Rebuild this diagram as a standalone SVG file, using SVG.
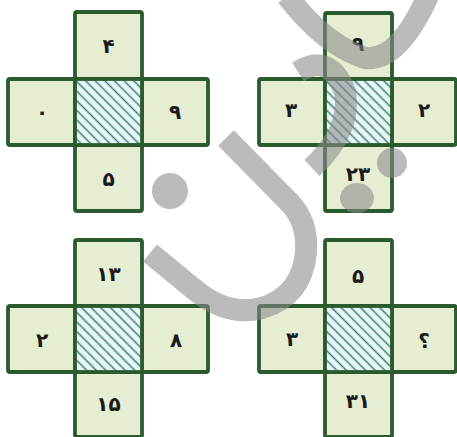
<svg xmlns="http://www.w3.org/2000/svg" width="457" height="437" viewBox="0 0 457 437">
<style>
.cell{fill:#e5edd2;stroke:#2c5a2f;stroke-width:3.8;}
.mid{fill:url(#hatch);stroke:#2c5a2f;stroke-width:3.8;}
.t{font-family:"DejaVu Sans","Noto Sans",sans-serif;font-weight:bold;font-size:20px;fill:#1a1a1a;text-anchor:middle;}
.wm{fill:none;stroke:#8a8a8a;stroke-opacity:0.58;stroke-width:22;}
.wmf{fill:#8a8a8a;fill-opacity:0.58;}
</style>
<defs>
<pattern id="hatch" width="6.8" height="6.8" patternUnits="userSpaceOnUse" patternTransform="rotate(45)">
<rect width="6.8" height="6.8" fill="#e9f8f5"/>
<line x1="0" y1="3.4" x2="6.8" y2="3.4" stroke="#3d7c7c" stroke-width="1.5"/>
</pattern>
</defs>
<rect width="457" height="437" fill="#ffffff"/>

<g id="cross1">
<g id="c1-top"><rect class="cell" x="75" y="12" width="67" height="67" rx="2"/><text class="t" x="108.5" y="53">۴</text></g>
<g id="c1-left"><rect class="cell" x="8" y="79" width="67" height="66" rx="2"/><text class="t" x="42" y="119">۰</text></g>
<g id="c1-right"><rect class="cell" x="142" y="79" width="66" height="66" rx="2"/><text class="t" x="175" y="119">۹</text></g>
<g id="c1-bottom"><rect class="cell" x="75" y="145" width="67" height="66" rx="2"/><text class="t" x="108.5" y="186">۵</text></g>
<g id="c1-center"><rect class="mid" x="75" y="79" width="67" height="66"/></g>
</g>

<g id="cross2">
<g id="c2-top"><rect class="cell" x="325" y="13" width="67" height="66" rx="2"/><text class="t" x="358" y="51">۹</text></g>
<g id="c2-left"><rect class="cell" x="259" y="79" width="66" height="66" rx="2"/><text class="t" x="291" y="117">۳</text></g>
<g id="c2-right"><rect class="cell" x="392" y="79" width="64" height="66" rx="2"/><text class="t" x="424" y="117">۲</text></g>
<g id="c2-bottom"><rect class="cell" x="325" y="145" width="67" height="66" rx="2"/><text class="t" x="358" y="181">۲۳</text></g>
<g id="c2-center"><rect class="mid" x="325" y="79" width="67" height="66"/></g>
</g>

<g id="cross3">
<g id="c3-top"><rect class="cell" x="75" y="240" width="67" height="66" rx="2"/><text class="t" x="108.5" y="281">۱۳</text></g>
<g id="c3-left"><rect class="cell" x="8" y="306" width="67" height="66" rx="2"/><text class="t" x="42" y="347">۲</text></g>
<g id="c3-right"><rect class="cell" x="142" y="306" width="66" height="66" rx="2"/><text class="t" x="176" y="347">۸</text></g>
<g id="c3-bottom"><rect class="cell" x="75" y="372" width="67" height="65" rx="2"/><text class="t" x="108.5" y="411">۱۵</text></g>
<g id="c3-center"><rect class="mid" x="75" y="306" width="67" height="66"/></g>
</g>

<g id="cross4">
<g id="c4-top"><rect class="cell" x="325" y="240" width="67" height="66" rx="2"/><text class="t" x="358" y="283">۵</text></g>
<g id="c4-left"><rect class="cell" x="259" y="306" width="66" height="66" rx="2"/><text class="t" x="292" y="346">۳</text></g>
<g id="c4-right"><rect class="cell" x="392" y="306" width="64" height="66" rx="2"/><text class="t" x="424" y="348">؟</text></g>
<g id="c4-bottom"><rect class="cell" x="325" y="372" width="67" height="65" rx="2"/><text class="t" x="358" y="408">۳۱</text></g>
<g id="c4-center"><rect class="mid" x="325" y="306" width="67" height="66"/></g>
</g>

<g id="watermark">
<path class="wm" d="M226,138 L290,203 Q308,222 306,252 Q302,296 262,308 Q228,317 195,290 L150,253"/>
<circle class="wmf" cx="170" cy="191" r="18"/>
<path class="wm" d="M287,-4 Q325,45 365,58 Q398,62 428,-4"/>
<path class="wm" d="M298,72 Q330,52 345,92 Q352,130 312,168"/>
<circle class="wmf" cx="392" cy="163" r="15"/>
<ellipse class="wmf" cx="357" cy="198" rx="17" ry="15"/>
</g>
</svg>
